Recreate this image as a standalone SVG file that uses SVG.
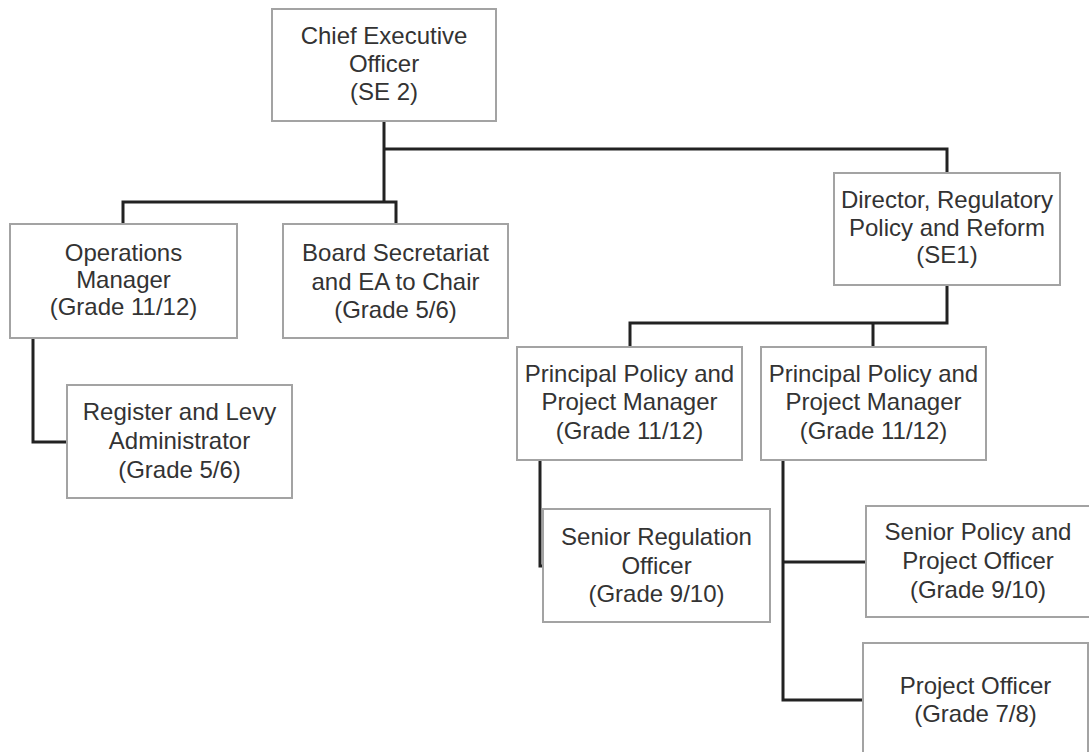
<svg xmlns="http://www.w3.org/2000/svg" width="1089" height="752" viewBox="0 0 1089 752">
<style>
.box{fill:#fff;stroke:#a3a3a3;stroke-width:2}
.t{font-family:"Liberation Sans",Arial,sans-serif;font-size:24px;fill:#333;text-anchor:middle}
.c{fill:none;stroke:#222;stroke-width:3;stroke-linejoin:miter}
</style>
<rect width="1089" height="752" fill="#fff"/>
<g id="connectors">
<path class="c" d="M384,121 V202 M384,149 H947 V173 M123,224 V202 H396 V224"/>
<path class="c" d="M947,285 V323 H630 V347 M873,323 V347"/>
<path class="c" d="M33,338 V442 H67"/>
<path class="c" d="M540,460 V566 H543"/>
<path class="c" d="M783,460 V700 H863 M783,562 H866"/>
</g>
<g id="ceo">
<rect class="box" x="272" y="9" width="224" height="112"/>
<text class="t" x="384" y="44">Chief Executive</text>
<text class="t" x="384" y="72">Officer</text>
<text class="t" x="384" y="100">(SE 2)</text>
</g>
<g id="ops">
<rect class="box" x="10" y="224" width="227" height="114"/>
<text class="t" x="123.5" y="261">Operations</text>
<text class="t" x="123.5" y="288">Manager</text>
<text class="t" x="123.5" y="315">(Grade 11/12)</text>
</g>
<g id="board">
<rect class="box" x="283" y="224" width="225" height="114"/>
<text class="t" x="395.5" y="261">Board Secretariat</text>
<text class="t" x="395.5" y="290">and EA to Chair</text>
<text class="t" x="395.5" y="318">(Grade 5/6)</text>
</g>
<g id="director">
<rect class="box" x="834" y="173" width="226" height="112"/>
<text class="t" x="947" y="208">Director, Regulatory</text>
<text class="t" x="947" y="236">Policy and Reform</text>
<text class="t" x="947" y="263">(SE1)</text>
</g>
<g id="register">
<rect class="box" x="67" y="385" width="225" height="113"/>
<text class="t" x="179.5" y="420">Register and Levy</text>
<text class="t" x="179.5" y="449">Administrator</text>
<text class="t" x="179.5" y="478">(Grade 5/6)</text>
</g>
<g id="principal1">
<rect class="box" x="517" y="347" width="225" height="113"/>
<text class="t" x="629.5" y="382">Principal Policy and</text>
<text class="t" x="629.5" y="410">Project Manager</text>
<text class="t" x="629.5" y="439">(Grade 11/12)</text>
</g>
<g id="principal2">
<rect class="box" x="761" y="347" width="225" height="113"/>
<text class="t" x="873.5" y="382">Principal Policy and</text>
<text class="t" x="873.5" y="410">Project Manager</text>
<text class="t" x="873.5" y="439">(Grade 11/12)</text>
</g>
<g id="senior-regulation">
<rect class="box" x="543" y="509" width="227" height="113"/>
<text class="t" x="656.5" y="545">Senior Regulation</text>
<text class="t" x="656.5" y="574">Officer</text>
<text class="t" x="656.5" y="602">(Grade 9/10)</text>
</g>
<g id="senior-policy">
<rect class="box" x="866" y="506" width="224" height="111"/>
<text class="t" x="978" y="540">Senior Policy and</text>
<text class="t" x="978" y="569">Project Officer</text>
<text class="t" x="978" y="598">(Grade 9/10)</text>
</g>
<g id="project-officer">
<rect class="box" x="863" y="643" width="225" height="113"/>
<text class="t" x="975.5" y="694">Project Officer</text>
<text class="t" x="975.5" y="722">(Grade 7/8)</text>
</g>
</svg>
